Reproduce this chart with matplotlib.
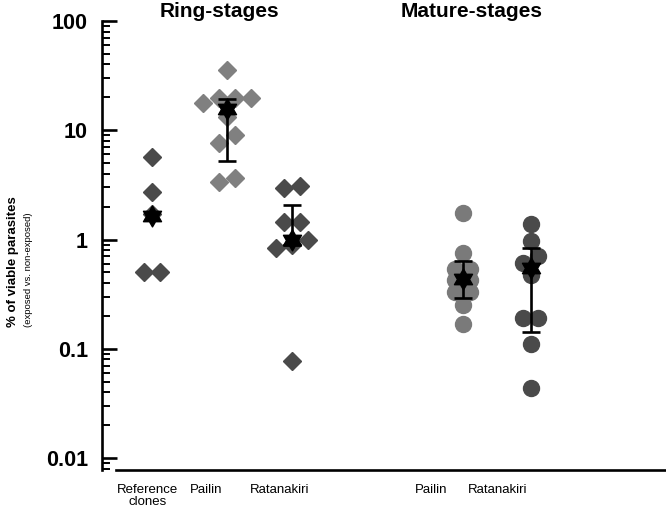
import numpy as np
import matplotlib
matplotlib.use("Agg")
import matplotlib.pyplot as plt
from matplotlib.path import Path
from matplotlib.ticker import LogLocator, NullFormatter, NullLocator
from matplotlib.transforms import blended_transform_factory

plt.rcParams["font.family"] = ["Liberation Sans", "DejaVu Sans"]

# labels
group_labels = ["Reference\nclones", "Pailin", "Ratanakiri", "Pailin", "Ratanakiri"]
stage_titles = ["Ring-stages", "Mature-stages"]
ytick_values = [0.01, 0.1, 1, 10, 100]
ytick_labels = ["0.01", "0.1", "1", "10", "100"]

# % of viable parasites
ref_clones = [5.7, 2.7, 1.7, 0.5, 0.5]
ring_pailin = [35.6, 19.7, 19.7, 19.7, 17.7, 13.2, 9.05, 7.6, 3.66, 3.36]
ring_ratanakiri = [3.1, 2.96, 1.45, 1.45, 0.98, 0.89, 0.84, 0.078]
mature_pailin = [1.75, 0.75, 0.54, 0.54, 0.43, 0.43, 0.33, 0.33, 0.25, 0.17]
mature_ratanakiri = [1.39, 0.97, 0.71, 0.61, 0.47, 0.19, 0.19, 0.11, 0.044]

# median (star) and bar ends per group, None = no bar
medians = [1.64, 15.7, 0.99, 0.435, 0.548]
err_low = [None, 5.2, 0.9, 0.292, 0.142]
err_high = [None, 19.5, 2.07, 0.635, 0.835]

groups = [ref_clones, ring_pailin, ring_ratanakiri, mature_pailin, mature_ratanakiri]

# layout / style
positions = [1.0, 2.07, 3.0, 5.44, 6.41]
label_x = [0.94, 1.77, 2.83, 4.99, 5.94]
title_x = [1.96, 5.57]
markers = ["D", "D", "D", "o", "o"]
sizes = [8.7, 8.7, 8.7, 11.5, 11.5]
colors = ["#4a4a4a", "#808080", "#4a4a4a", "#7a7a7a", "#4a4a4a"]
steps = [0.23, 0.23, 0.23, 0.22, 0.22]

# six-pointed star (hexagram) marker for the medians
ang = np.pi / 2 + np.arange(12) * np.pi / 6
rad = np.where(np.arange(12) % 2 == 0, 1.0, 1 / np.sqrt(3))
verts = np.column_stack([rad * np.cos(ang), rad * np.sin(ang)])
hexagram = Path(np.vstack([verts, verts[:1]]), closed=True)


def swarm_offsets(values, step, tol=0.08):
    # prism-like rows: points close in log value share a row, centred on the group
    logs = np.log10(values)
    offs = np.zeros(len(values))
    rows = []
    for i in np.argsort(-logs, kind="stable"):
        if rows and logs[rows[-1][0]] - logs[i] < tol:
            rows[-1].append(i)
        else:
            rows.append([i])
    for row in rows:
        row = sorted(row, key=lambda k: logs[k])
        n = len(row)
        for j, k in enumerate(row):
            offs[k] = (j - (n - 1) / 2) * step
    return offs


fig = plt.figure(figsize=(6.66, 5.08), dpi=100)
ax = fig.add_axes([102 / 666, 38 / 508, 564 / 666, 449 / 508])

for i, vals in enumerate(groups):
    xs = positions[i] + swarm_offsets(vals, steps[i])
    ax.plot(xs, vals, linestyle="none", marker=markers[i], ms=sizes[i],
            color=colors[i], mec=colors[i], zorder=2)
    if err_low[i] is not None:
        ax.errorbar(positions[i], medians[i],
                    yerr=[[medians[i] - err_low[i]], [err_high[i] - medians[i]]],
                    fmt="none", ecolor="black", elinewidth=1.9, capsize=6.2,
                    capthick=1.9, zorder=3)
    ax.plot(positions[i], medians[i], linestyle="none", marker=hexagram, ms=15,
            color="black", mec="black", zorder=4)

ax.set_yscale("log")
ax.set_ylim(0.00777, 100)
ax.set_xlim(0.2857, 8.343)

ax.spines["top"].set_visible(False)
ax.spines["right"].set_visible(False)
ax.spines["left"].set_linewidth(1.9)
ax.spines["bottom"].set_linewidth(1.9)
ax.spines["bottom"].set_bounds(0.4857, 8.343)

ax.set_yticks(ytick_values)
ax.set_yticklabels(ytick_labels, fontsize=15.5, fontweight="bold")
ax.yaxis.set_minor_locator(LogLocator(base=10, subs=np.arange(2, 10)))
ax.yaxis.set_minor_formatter(NullFormatter())
ax.tick_params(axis="y", which="major", direction="in", length=11, width=1.9, pad=10)
ax.tick_params(axis="y", which="minor", direction="in", length=6, width=1.4)

ax.set_xticks(label_x)
ax.set_xticklabels(group_labels, fontsize=9.5, linespacing=1.05)
ax.tick_params(axis="x", length=0, pad=10)
ax.xaxis.set_minor_locator(NullLocator())

trans = blended_transform_factory(ax.transData, ax.transAxes)
for t, x in zip(stage_titles, title_x):
    ax.text(x, 1.01, t, transform=trans, ha="center", va="baseline",
            fontsize=15, fontweight="bold")

fig.text(13 / 666, 1 - 262 / 508, "% of viable parasites", rotation=90,
         ha="center", va="center", fontsize=9.5, fontweight="bold")
fig.text(29 / 666, 1 - 270 / 508, "(exposed vs. non-exposed)", rotation=90,
         ha="center", va="center", fontsize=6.8)

fig.savefig("out.png", dpi=100)
